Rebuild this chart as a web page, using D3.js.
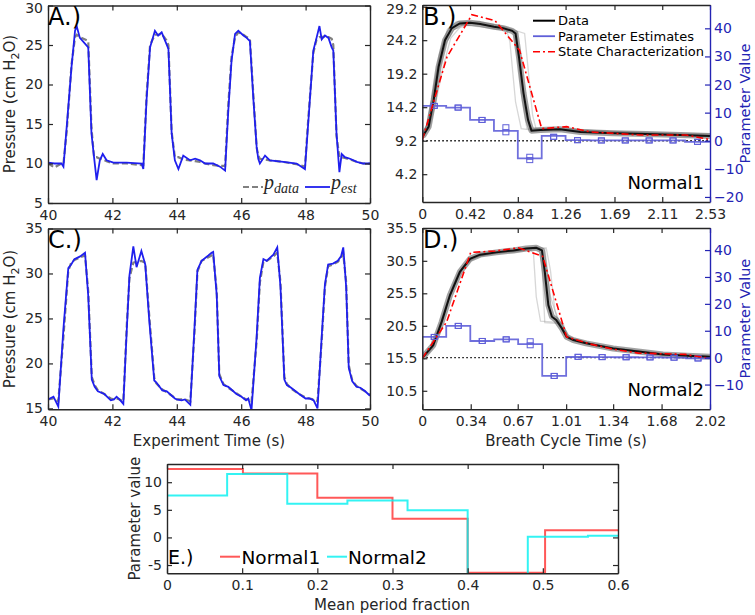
<!DOCTYPE html>
<html><head><meta charset="utf-8">
<script src="https://cdn.jsdelivr.net/npm/d3@7"></script>
<style>body{margin:0;background:#fff}svg{display:block;font-family:"DejaVu Sans",sans-serif}</style>
</head><body>
<script>
// ---------------- DATA ----------------
// Panel A (Normal1 experiment)
const tA = [40.00,40.20,40.42,40.48,40.58,40.73,40.84,40.89,40.99,41.25,41.35,41.43,41.51,41.61,41.70,41.82,42.03,42.44,42.91,42.96,
  43.06,43.17,43.32,43.42,43.53,43.68,43.74,43.84,43.94,44.05,44.20,44.41,44.57,44.72,44.88,45.13,45.34,45.50,
  45.60,45.70,45.81,45.91,46.07,46.17,46.27,46.38,46.48,46.53,46.58,46.74,46.89,47.31,47.72,47.98,
  48.08,48.24,48.34,48.43,48.50,48.60,48.71,48.81,48.86,48.96,49.05,49.12,49.22,49.38,49.59,49.79,50.00];
const pEstA = [10.1,10.0,10.0,9.6,14.6,22.2,26.8,27.4,25.9,24.7,13.8,10.8,7.9,10.4,11.2,10.4,10.1,10.1,10.0,9.3,
  18.0,24.7,26.8,26.2,26.6,25.1,24.5,13.8,10.4,9.3,11.0,10.4,10.6,10.4,10.0,10.0,9.6,9.1,
  16.7,23.0,26.4,26.8,26.2,25.9,25.5,18.0,12.1,10.6,10.0,11.0,10.4,10.2,10.0,9.3,
  15.0,24.3,25.9,27.4,25.7,26.2,25.9,24.7,24.3,13.8,8.9,11.2,10.8,10.6,10.2,10.0,10.0];
const pDataA = [10.0,9.5,10.0,10.0,14.0,22.5,26.0,26.3,26.0,25.5,14.5,10.8,10.8,10.6,10.5,10.3,10.0,10.0,9.8,9.8,
  18.5,25.0,26.3,26.3,26.4,25.6,25.0,14.0,10.8,10.8,10.5,10.4,10.3,10.2,10.0,9.8,9.7,9.7,
  17.5,23.5,26.0,26.6,26.3,26.0,25.8,18.5,12.0,11.0,10.6,10.5,10.4,10.2,9.9,9.6,
  15.5,24.0,25.7,26.0,26.0,26.1,26.0,25.8,25.0,13.5,10.8,10.8,10.7,10.5,10.2,10.0,10.0];
// Panel C (Normal2 experiment)
const tC = [40.00,40.17,40.32,40.48,40.63,40.72,40.82,41.00,41.15,41.25,41.36,41.45,41.55,41.75,41.95,42.05,42.13,42.22,42.34,
  42.45,42.53,42.65,42.75,42.90,43.02,43.14,43.30,43.36,43.55,43.69,43.94,44.00,44.15,44.25,44.42,
  44.55,44.64,44.77,44.98,45.08,45.13,45.24,45.32,45.45,45.60,45.85,46.01,46.15,46.22,46.32,
  46.48,46.58,46.69,46.79,47.00,47.12,47.22,47.34,47.42,47.55,47.80,48.00,48.12,48.25,48.37,
  48.50,48.60,48.70,48.85,49.00,49.10,49.17,49.26,49.34,49.45,49.58,49.70,49.85,50.00];
const pEstC = [16.0,16.3,15.2,23.9,30.6,31.0,31.6,31.9,32.3,27.5,18.2,17.4,16.9,16.6,15.9,16.0,16.3,16.0,15.5,
  24.0,29.8,33.0,30.7,32.5,31.0,25.0,18.1,17.9,17.0,16.9,16.1,16.0,15.9,16.0,15.4,
  24.0,30.4,31.4,32.0,32.3,32.4,27.6,18.6,17.6,17.4,16.6,16.3,15.9,16.1,14.8,
  23.0,29.5,31.6,31.4,32.1,32.9,28.5,18.2,17.6,17.3,16.6,16.1,16.1,15.9,15.0,
  23.0,28.8,31.0,31.1,31.4,31.9,32.9,28.5,19.5,18.0,17.4,17.3,16.9,16.4];
const pDataC = [16.0,16.1,15.8,23.0,30.3,31.2,31.5,31.8,32.0,28.0,18.5,17.6,17.0,16.6,16.1,16.0,16.1,16.0,15.8,
  24.5,29.5,31.2,31.3,31.4,31.2,25.5,18.4,17.8,17.1,16.8,16.2,16.0,16.0,16.0,15.8,
  23.5,30.2,31.4,31.8,32.0,32.1,28.0,18.8,17.7,17.3,16.7,16.3,16.0,16.0,15.7,
  22.5,29.0,31.3,31.4,31.9,32.3,29.0,18.5,17.7,17.2,16.6,16.2,16.1,16.0,15.8,
  22.5,28.5,30.8,31.0,31.3,31.7,32.2,29.0,19.8,18.1,17.5,17.2,16.9,16.5];
// Panel B (Normal1 breath cycle)
const bMean = [[0,10.0],[0.012,10.05],[0.056,11.3],[0.10,15.3],[0.143,20.2],[0.20,24.2],[0.26,26.0],[0.33,26.7],[0.42,26.8],[0.51,26.6],
  [0.63,26.2],[0.71,26.0],[0.79,25.6],[0.82,25.2],[0.85,21.7],[0.89,16.3],[0.93,12.3],[0.96,10.7],[1.04,10.8],[1.21,10.9],
  [1.39,10.5],[1.68,10.3],[1.97,10.2],[2.27,10.05],[2.53,9.9]];
const bTraces = [
  [[0,9.8],[0.05,12],[0.1,17],[0.15,22],[0.22,25.5],[0.3,26.6],[0.45,26.8],[0.6,26.3],[0.74,25.8],[0.77,24],[0.82,15],[0.87,11],[0.95,10.8],[1.3,10.8],[1.8,10.3],[2.53,9.9]],
  [[0,10.2],[0.06,11],[0.12,15],[0.18,20],[0.25,24.5],[0.35,26.5],[0.5,27],[0.7,26.3],[0.9,25.2],[0.93,20],[0.97,13],[1.0,11],[1.1,11],[1.5,10.7],[2.0,10.4],[2.53,10.2]],
  [[0,10],[0.08,13],[0.14,19],[0.2,23.5],[0.28,25.8],[0.4,26.4],[0.6,26.0],[0.8,25.5],[0.84,22],[0.88,15],[0.92,11],[1.2,10.9],[1.7,10.5],[2.53,10.0]],
  [[0,10.1],[0.04,11.5],[0.09,16],[0.16,22.5],[0.22,25.8],[0.3,27],[0.5,26.9],[0.7,26.2],[0.83,25.4],[0.86,21],[0.9,14],[0.95,10.9],[1.3,11.0],[2.0,10.1],[2.53,9.8]]
];
const bState = [[0,9.3],[0.217,21.7],[0.436,28.0],[0.64,27.1],[0.855,22.7],[1.05,11.0],[1.27,11.3],[1.48,10.5],[1.68,10.3],[1.91,10.05],[2.12,10.05],[2.32,10.05],[2.52,9.4]];
const bEdges = [0,0.21,0.42,0.63,0.84,1.05,1.26,1.47,1.68,1.89,2.10,2.31,2.53];
const bParams = [12.4,11.8,7.4,3.5,-6.3,1.7,0.2,0.1,0.1,0.1,0.1,-0.4];
const bMarkLo = [12.4,11.8,7.4,3.0,-6.9,1.4,0.2,0.1,0.1,0.1,0.1,-0.4];
const bMarkHi = [12.4,11.8,7.4,4.8,-5.7,1.4,0.2,0.1,0.1,0.1,0.1,-0.4];
// Panel D (Normal2 breath cycle)
const dMean = [[0,15.6],[0.007,15.75],[0.077,17.5],[0.136,21.1],[0.194,25.2],[0.264,28.8],[0.335,30.8],[0.405,31.45],[0.52,31.8],[0.64,32.1],
  [0.73,32.4],[0.80,32.5],[0.84,32.1],[0.86,28.8],[0.885,23.7],[0.91,21.9],[0.94,21.4],[0.98,20.1],[1.013,18.8],[1.06,18.3],
  [1.15,17.8],[1.34,17.0],[1.53,16.5],[1.69,16.1],[1.86,15.9],[2.02,15.75]];
const dTraces = [
  [[0,15.5],[0.05,16.5],[0.1,19],[0.16,23],[0.22,27],[0.3,30],[0.4,31.3],[0.6,31.9],[0.75,32.2],[0.78,31.8],[0.8,25],[0.83,21.2],[0.98,21],[1.01,19],[1.05,18.4],[1.3,17.2],[1.7,16.1],[2.02,15.7]],
  [[0,15.6],[0.06,17],[0.12,20.5],[0.18,24.5],[0.25,28.5],[0.33,30.7],[0.45,31.6],[0.65,32.2],[0.8,32.6],[0.86,32.4],[0.9,25],[0.95,21.5],[1.0,19.5],[1.05,18.5],[1.3,17.1],[1.7,16.1],[2.02,15.8]],
  [[0,15.4],[0.08,17.8],[0.14,21.5],[0.2,25.5],[0.28,29.3],[0.36,31],[0.5,31.6],[0.7,32.0],[0.82,32.4],[0.84,30],[0.86,21],[0.99,20.8],[1.02,18.7],[1.1,18.0],[1.4,16.9],[2.02,15.6]],
  [[0,15.5],[0.07,17],[0.13,20.5],[0.19,24.8],[0.26,28.8],[0.34,30.9],[0.5,31.8],[0.7,32.3],[0.87,32.5],[0.9,29],[0.93,23],[0.97,20.5],[1.01,18.9],[1.2,17.6],[1.6,16.3],[2.02,15.8]]
];
const dState = [[0,15.5],[0.171,21.1],[0.34,31.8],[0.51,32.0],[0.674,32.5],[0.845,31.2],[1.013,18.8],[1.177,17.7],[1.34,16.9],[1.516,16.3],[1.68,16.2],[1.844,16.1],[2.015,15.5]];
const dEdges = [0,0.168,0.337,0.505,0.673,0.842,1.01,1.178,1.347,1.515,1.683,1.852,2.02];
const dParams = [7.7,11.8,6.2,6.8,5.0,-6.8,0.25,0.2,0.15,0.1,0.0,-0.25];
const dMarkLo = [7.7,11.8,6.2,6.8,4.6,-6.8,0.3,0.2,0.15,0.1,0.0,-0.3];
const dMarkHi = [7.7,11.8,6.2,6.8,6.1,-6.8,0.3,0.2,0.15,0.1,0.0,-0.3];
// Panel E
const eN1Edges = [0,0.101,0.2,0.3,0.4,0.503,0.6];
const eN1 = [12.4,11.6,7.2,3.4,-6.4,1.3];
const eN2Edges = [0,0.08,0.16,0.24,0.32,0.4,0.48,0.56,0.6];
const eN2 = [7.6,11.5,6.1,6.7,4.9,-6.7,0.1,0.3];
// Ticks
const ticksAx = [40,42,44,46,48,50];
const ticksAy = [5,10,15,20,25,30];
const ticksCy = [15,20,25,30,35];
const ticksBx = [0,0.42,0.84,1.26,1.69,2.11,2.53];
const ticksBy = [4.2,9.2,14.2,19.2,24.2,29.2];
const ticksDx = [0,0.34,0.67,1.01,1.34,1.68,2.02];
const ticksDy = [10.5,15.5,20.5,25.5,30.5,35.5];
const ticksBr = [-20,-10,0,10,20,30,40];
const ticksDr = [-10,0,10,20,30,40];
const ticksEx = [0,0.1,0.2,0.3,0.4,0.5,0.6];
const ticksEy = [-5,0,5,10];

// ---------------- DRAW ----------------
const AX = '#262626', BLUE = '#1f1fee', PBLUE = '#2424b4', STEPBLUE = '#5f5fd8';
const svg = d3.select('body').append('svg').attr('width', 755).attr('height', 615);
let clipId = 0;

function panel(L, R, T, B, xd, yd, xt, yt, opts = {}) {
  const x = d3.scaleLinear().domain(xd).range([L, R]);
  const y = d3.scaleLinear().domain(yd).range([B, T]);
  const g = svg.append('g');
  const id = 'clip' + (clipId++);
  svg.append('clipPath').attr('id', id).append('rect').attr('x', L).attr('y', T).attr('width', R - L).attr('height', B - T);
  const data = g.append('g').attr('clip-path', `url(#${id})`);
  const fmt = opts.fmt || (d => d);
  g.append('g').attr('transform', `translate(0,${B})`)
    .call(d3.axisBottom(x).tickValues(xt).tickSizeInner(-5).tickSizeOuter(0).tickPadding(7).tickFormat(opts.xfmt || fmt));
  g.append('g').attr('transform', `translate(0,${T})`)
    .call(d3.axisTop(x).tickValues(xt).tickSizeInner(-5).tickSizeOuter(0).tickFormat(''));
  const yl = g.append('g').attr('transform', `translate(${L},0)`)
    .call(d3.axisLeft(y).tickValues(yt).tickSizeInner(-5).tickSizeOuter(0).tickPadding(5).tickFormat(opts.yfmt || fmt));
  if (!opts.noRight) {
    g.append('g').attr('transform', `translate(${R},0)`)
      .call(d3.axisRight(y).tickValues(yt).tickSizeInner(-5).tickSizeOuter(0).tickFormat(''));
  }
  g.selectAll('.domain').attr('stroke', AX).attr('stroke-width', 1.4);
  g.selectAll('.tick line').attr('stroke', AX).attr('stroke-width', 1.2);
  g.selectAll('.tick text').attr('fill', AX).style('font-size', '14px').style('font-family', 'DejaVu Sans');
  // keep top-most tick label inside the page
  yl.selectAll('.tick text').filter(function () {
    const tr = this.parentNode.getAttribute('transform');
    const ty = +tr.match(/,([\d.\-]+)\)/)[1];
    return ty < 8;
  }).attr('dy', '0.5em');
  return {x, y, g, data};
}

const line = (x, y) => d3.line().x(d => x(d[0])).y(d => y(d[1]));
const zip = (t, v) => t.map((d, i) => [d, v[i]]);

// Panel A
const A = panel(48, 370, 5.5, 203, [40, 50], [5, 30], ticksAx, ticksAy);
A.data.append('path').datum(zip(tA, pDataA)).attr('d', line(A.x, A.y)).attr('fill', 'none')
  .attr('stroke', '#808080').attr('stroke-width', 2.2).attr('stroke-dasharray', '6,3');
A.data.append('path').datum(zip(tA, pEstA)).attr('d', line(A.x, A.y)).attr('fill', 'none')
  .attr('stroke', BLUE).attr('stroke-width', 1.8);
// Panel C
const C = panel(48, 370, 228.5, 409.3, [40, 50], [14.9, 35], ticksAx, ticksCy);
C.data.append('path').datum(zip(tC, pDataC)).attr('d', line(C.x, C.y)).attr('fill', 'none')
  .attr('stroke', '#808080').attr('stroke-width', 2.2).attr('stroke-dasharray', '6,3');
C.data.append('path').datum(zip(tC, pEstC)).attr('d', line(C.x, C.y)).attr('fill', 'none')
  .attr('stroke', BLUE).attr('stroke-width', 1.8);

// A legend
function mathLabel(x, y, sub) {
  const t = svg.append('text').attr('x', x).attr('y', y).attr('fill', '#262626')
    .style('font-family', '"Liberation Serif",serif').style('font-style', 'italic').style('font-size', '20px');
  t.append('tspan').text('p');
  t.append('tspan').attr('dy', 4).style('font-size', '14px').text(sub);
}
svg.append('line').attr('x1', 243).attr('x2', 263).attr('y1', 187).attr('y2', 187).attr('stroke', '#808080').attr('stroke-width', 2.2).attr('stroke-dasharray', '6,3');
mathLabel(264, 189, 'data');
svg.append('line').attr('x1', 305).attr('x2', 330).attr('y1', 187).attr('y2', 187).attr('stroke', BLUE).attr('stroke-width', 1.8);
mathLabel(331, 189, 'est');

// Breath cycle panel builder
function cyclePanel(T, B, xd, yd, rd, xt, yt, rt, mean, traces, state, edges, params, mlo, mhi, name, letter) {
  const P = panel(422.3, 710, T, B, xd, yd, xt, yt, {noRight: true, yfmt: d3.format('.1f'), xfmt: d => d});
  const yr = d3.scaleLinear().domain(rd).range([B, T]);
  const ra = P.g.append('g').attr('transform', 'translate(710,0)')
    .call(d3.axisRight(yr).tickValues(rt).tickSizeInner(-5).tickSizeOuter(0).tickPadding(4));
  ra.selectAll('.domain').attr('stroke', PBLUE).attr('stroke-width', 1.4);
  ra.selectAll('.tick line').attr('stroke', PBLUE).attr('stroke-width', 1.2);
  ra.selectAll('.tick text').attr('fill', PBLUE).style('font-size', '14px').style('font-family', 'DejaVu Sans');
  const D = P.data;
  D.append('line').attr('x1', 422.3).attr('x2', 710).attr('y1', yr(0)).attr('y2', yr(0))
    .attr('stroke', '#000').attr('stroke-width', 1.4).attr('stroke-dasharray', '1.5,2.5');
  traces.forEach(tr => D.append('path').datum(tr).attr('d', line(P.x, P.y)).attr('fill', 'none')
    .attr('stroke', '#9a9a9a').attr('stroke-width', 1.3).attr('stroke-opacity', 0.4));
  D.append('path').datum(mean).attr('d', line(P.x, P.y)).attr('fill', 'none')
    .attr('stroke', '#555').attr('stroke-width', 6).attr('stroke-opacity', 0.55).attr('stroke-linejoin', 'round');
  D.append('path').datum(mean).attr('d', line(P.x, P.y)).attr('fill', 'none')
    .attr('stroke', '#111').attr('stroke-width', 2);
  const steps = [[edges[0], 0]].concat(params.map((v, i) => [edges[i], v])).concat([[edges[edges.length - 1], params[params.length - 1]]]);
  D.append('path').datum(steps).attr('d', d3.line().x(d => P.x(d[0])).y(d => yr(d[1])).curve(d3.curveStepAfter))
    .attr('fill', 'none').attr('stroke', STEPBLUE).attr('stroke-width', 1.8).attr('stroke-opacity', 0.9);
  params.forEach((v, i) => {
    const cx = P.x((edges[i] + edges[i + 1]) / 2);
    [mlo[i], mhi[i]].forEach(m => D.append('rect').attr('x', cx - 3).attr('y', yr(m) - 2.5).attr('width', 6).attr('height', 5)
      .attr('fill', 'none').attr('stroke', STEPBLUE).attr('stroke-width', 1));
  });
  D.append('path').datum(state).attr('d', line(P.x, P.y)).attr('fill', 'none')
    .attr('stroke', '#ff0000').attr('stroke-width', 1.6).attr('stroke-dasharray', '7,3,2,3');
  svg.append('text').attr('x', 704).attr('y', B - 13).attr('text-anchor', 'end').attr('fill', '#000')
    .style('font-size', '18px').text(name);
  svg.append('text').attr('x', 423).attr('y', T + 20).attr('fill', '#000').style('font-size', '24px').text(letter);
  svg.append('text').attr('transform', `translate(750,${(T + B) / 2}) rotate(-90)`).attr('text-anchor', 'middle')
    .attr('fill', PBLUE).style('font-size', '14.5px').text('Parameter Value');
  return P;
}

cyclePanel(5, 202, [0, 2.53], [0.05, 29.45], [-21.8, 48.3], ticksBx, ticksBy, ticksBr,
  bMean, bTraces, bState, bEdges, bParams, bMarkLo, bMarkHi, 'Normal1', 'B.)');
cyclePanel(228, 409.3, [0, 2.02], [7.65, 35.55], [-19.2, 48.2], ticksDx, ticksDy, ticksDr,
  dMean, dTraces, dState, dEdges, dParams, dMarkLo, dMarkHi, 'Normal2', 'D.)');

// B legend
const leg = [['Data', '#000', null, 2], ['Parameter Estimates', STEPBLUE, null, 1.8], ['State Characterization', '#ff0000', '7,3,2,3', 1.6]];
leg.forEach((d, i) => {
  const yy = 20.7 + i * 15.5;
  svg.append('line').attr('x1', 533).attr('x2', 555).attr('y1', yy).attr('y2', yy).attr('stroke', d[1]).attr('stroke-width', d[3])
    .attr('stroke-dasharray', d[2]);
  svg.append('text').attr('x', 558).attr('y', yy + 4.6).attr('fill', '#000').style('font-size', '13px').text(d[0]);
});

// Panel letters for A/C
svg.append('text').attr('x', 48).attr('y', 25).attr('fill', '#000').style('font-size', '24px').text('A.)');
svg.append('text').attr('x', 48).attr('y', 248).attr('fill', '#000').style('font-size', '24px').text('C.)');

// Axis labels
function pressureLabel(cy) {
  const t = svg.append('text').attr('transform', `translate(15,${cy}) rotate(-90)`).attr('text-anchor', 'middle')
    .attr('fill', AX).style('font-size', '15px');
  t.append('tspan').text('Pressure (cm H');
  t.append('tspan').attr('dy', 4).style('font-size', '11px').text('2');
  t.append('tspan').attr('dy', -4).text('O)');
}
pressureLabel(104);
pressureLabel(319);
svg.append('text').attr('x', 209).attr('y', 446).attr('text-anchor', 'middle').attr('fill', AX).style('font-size', '15px').text('Experiment Time (s)');
svg.append('text').attr('x', 566).attr('y', 446).attr('text-anchor', 'middle').attr('fill', AX).style('font-size', '15px').text('Breath Cycle Time (s)');

// Panel E
const E = panel(167, 618, 464, 573.3, [0, 0.6], [-6.5, 13.3], ticksEx, ticksEy);
const stepLine = (x, y) => d3.line().x(d => x(d[0])).y(d => y(d[1])).curve(d3.curveStepAfter);
const e1 = eN1.map((v, i) => [eN1Edges[i], v]).concat([[eN1Edges[eN1Edges.length - 1], eN1[eN1.length - 1]]]);
const e2 = eN2.map((v, i) => [eN2Edges[i], v]).concat([[eN2Edges[eN2Edges.length - 1], eN2[eN2.length - 1]]]);
E.data.append('path').datum(e1).attr('d', stepLine(E.x, E.y)).attr('fill', 'none').attr('stroke', '#ff2020').attr('stroke-opacity', 0.75).attr('stroke-width', 2);
E.data.append('path').datum(e2).attr('d', stepLine(E.x, E.y)).attr('fill', 'none').attr('stroke', '#00f0f0').attr('stroke-opacity', 0.8).attr('stroke-width', 2);
svg.append('text').attr('x', 168).attr('y', 564).attr('fill', '#000').style('font-size', '19px').text('E.)');
svg.append('line').attr('x1', 220).attr('x2', 240).attr('y1', 556.7).attr('y2', 556.7).attr('stroke', '#ff2020').attr('stroke-opacity', 0.75).attr('stroke-width', 2);
svg.append('text').attr('x', 241.5).attr('y', 564).attr('fill', '#000').style('font-size', '18.5px').text('Normal1');
svg.append('line').attr('x1', 327).attr('x2', 347).attr('y1', 556.7).attr('y2', 556.7).attr('stroke', '#00f0f0').attr('stroke-opacity', 0.8).attr('stroke-width', 2);
svg.append('text').attr('x', 348).attr('y', 564).attr('fill', '#000').style('font-size', '18.5px').text('Normal2');
svg.append('text').attr('transform', `translate(140,${(464 + 573.3) / 2}) rotate(-90)`).attr('text-anchor', 'middle').attr('fill', AX).style('font-size', '15px').text('Parameter value');
svg.append('text').attr('x', 392).attr('y', 610).attr('text-anchor', 'middle').attr('fill', AX).style('font-size', '15px').text('Mean period fraction');
</script>
</body></html>
